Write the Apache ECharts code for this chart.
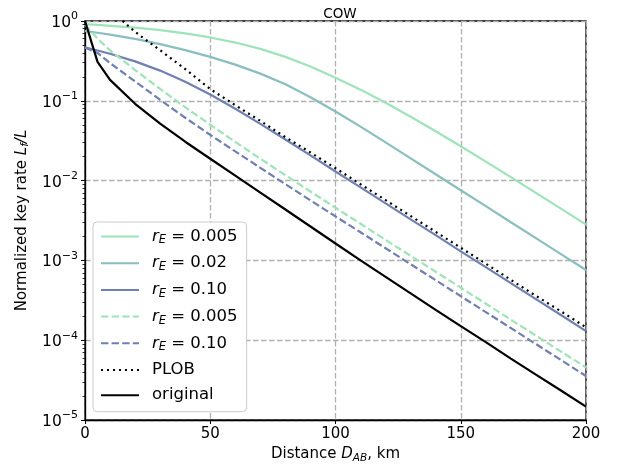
<!DOCTYPE html>
<html><head><meta charset="utf-8">
<script src="https://cdn.jsdelivr.net/npm/echarts@6/dist/echarts.min.js"></script>
<style>html,body{margin:0;padding:0;background:#fff}#c{width:624px;height:469px}</style>
</head><body><div id="c"></div>
<script>
// Data
const distance = [0,5,10,20,30,40,50,60,70,80,90,100,110,120,130,140,150,160,170,180,190,200];
const plobDistance = [15,20,30,40,50,60,70,80,90,100,110,120,130,140,150,160,170,180,190,200];

const rE005 = [0.916,0.893,0.871,0.824,0.769,0.701,0.622,0.537,0.447,0.355,0.269,0.195,0.138,0.0944,0.0631,0.0415,0.0269,0.0173,0.01104,0.00702,0.00445,0.00281];
const rE002 = [0.750,0.713,0.676,0.596,0.513,0.432,0.355,0.284,0.219,0.161,0.111,0.0735,0.0474,0.0301,0.0190,0.0120,0.00757,0.00478,0.00301,0.00190,0.00120,0.000757];
const rE010 = [0.467,0.427,0.388,0.312,0.239,0.173,0.120,0.0796,0.0514,0.0327,0.0207,0.0130,0.00822,0.00519,0.00327,0.00207,0.00130,0.000822,0.000519,0.000327,0.000207,0.000130];
const rE005dashed = [0.9,0.603,0.427,0.243,0.141,0.0832,0.0501,0.0305,0.0188,0.0117,0.0073,0.00457,0.00288,0.00181,0.00114,0.000721,0.000455,0.000287,0.000181,0.000114,0.0000721,0.0000455];
const rE010dashed = [0.467,0.398,0.297,0.175,0.103,0.0613,0.0374,0.0232,0.01445,0.00904,0.00566,0.00356,0.00225,0.00142,0.000895,0.000565,0.000356,0.000225,0.000142,0.0000895,0.0000565,0.0000356];
const plob = [1.0,0.73,0.43,0.25,0.14,0.088,0.056,0.035,0.0225,0.0143,0.009,0.0057,0.0036,0.00228,0.00144,0.00091,0.00057,0.00036,0.00023,0.000145];
const original = [1.0,0.307,0.183,0.0917,0.0516,0.0307,0.0188,0.01155,0.00708,0.00434,0.00266,0.00163,0.001,0.000622,0.000387,0.00024,0.00015,0.0000944,0.0000587,0.000037,0.0000234,0.0000147];

const xTicks = [0,50,100,150,200];
const yDecades = [1e-5,1e-4,1e-3,1e-2,1e-1,1];
const legendLabels = {
  s1:'{i|r}{sub|E}{t| = 0.005}',
  s2:'{i|r}{sub|E}{t| = 0.02}',
  s3:'{i|r}{sub|E}{t| = 0.10}',
  s4:'{i|r}{sub|E}{t| = 0.005}',
  s5:'{i|r}{sub|E}{t| = 0.10}',
  s6:'{p|PLOB}',
  s7:'{p|original}'
};

// minor tick positions (2..9 within each decade) for the log axis
const minorTicks = [];
for (let d = 0; d < yDecades.length - 1; d++) {
  for (let m = 2; m <= 9; m++) minorTicks.push(parseFloat((m * yDecades[d]).toPrecision(6)));
}

const FONT = 'DejaVu Sans';
const GREEN = '#9fe3b9', TEAL = '#8abebf', BLUE = '#7080b0';
function pairs(xs, ys){ return xs.map((x,i)=>[x, ys[i]]); }

const chart = echarts.init(document.getElementById('c'), null, {renderer:'canvas'});
const gridLine = {show:true, lineStyle:{color:'#b0b0b0', type:[5.5,2.5], width:1.3}};
function mk(name, xs, ys, color, type){
  return {name:name, type:'line', data:pairs(xs, ys), showSymbol:false, symbol:'none',
    smooth:false, clip:true, lineStyle:{color:color, width:2.2, type:type, cap:'butt'}, itemStyle:{color:color}};
}
const option = {
  animation:false,
  title:{text:'COW', left:335, top:2, textAlign:'center',
    textStyle:{fontFamily:FONT, fontSize:13.5, fontWeight:'normal', color:'#000'}},
  grid:{left:85, top:21, width:501, height:399, show:true, borderColor:'#000', borderWidth:1.3, containLabel:false},
  legend:{
    orient:'vertical', left:93, top:222, padding:[6,9,8,7],
    itemWidth:38, itemHeight:14, itemGap:8.2,
    backgroundColor:'#fff', borderColor:'#cccccc', borderWidth:1, borderRadius:4,
    itemStyle:{color:'rgba(0,0,0,0)', borderColor:'rgba(0,0,0,0)', borderWidth:0},
    data:['s1','s2','s3','s4','s5','s6','s7'],
    formatter:function(n){ return legendLabels[n]; },
    textStyle:{fontFamily:FONT, color:'#000', rich:{
      i:{fontFamily:FONT, fontStyle:'italic', fontSize:16.5, lineHeight:20, padding:[0,0,0,8]},
      sub:{fontFamily:FONT, fontStyle:'italic', fontSize:11.5, verticalAlign:'bottom', padding:[6,0,0,0]},
      t:{fontFamily:FONT, fontSize:16.5, lineHeight:20},
      p:{fontFamily:FONT, fontSize:16.5, lineHeight:20, padding:[0,0,0,8]}
    }}
  },
  xAxis:{type:'value', min:0, max:200, interval:50,
    axisLine:{show:true, lineStyle:{color:'#000', width:1.3}},
    axisTick:{show:true, length:4, lineStyle:{color:'#000', width:1}},
    axisLabel:{fontFamily:FONT, fontSize:15, color:'#000', margin:7,
      formatter:function(v){ return xTicks.indexOf(v) >= 0 ? String(v) : ''; }},
    splitLine:gridLine,
    name:'{t|Distance }{i|D}{sub|AB}{t|, km}', nameLocation:'middle', nameGap:25,
    nameTextStyle:{fontFamily:FONT, color:'#000', rich:{
      t:{fontFamily:FONT, fontSize:15, color:'#000'},
      i:{fontFamily:FONT, fontSize:15, fontStyle:'italic', color:'#000'},
      sub:{fontFamily:FONT, fontSize:10.5, fontStyle:'italic', color:'#000', verticalAlign:'bottom', padding:[8,0,0,0]}
    }}
  },
  yAxis:[{type:'log', logBase:10, min:1e-5, max:1, splitNumber:5,
    axisLine:{show:true, lineStyle:{color:'#000', width:1.3}},
    axisTick:{show:true, length:4, lineStyle:{color:'#000', width:1}},
    axisLabel:{color:'#000', margin:7,
      formatter:function(v){
        const e = Math.round(Math.log10(v));
        return '{b|10}{s|' + (e < 0 ? '\u2212' + (-e) : String(e)) + '}';
      },
      rich:{
        b:{fontFamily:FONT, fontSize:15.5, color:'#000', verticalAlign:'bottom', lineHeight:20},
        s:{fontFamily:FONT, fontSize:11, color:'#000', verticalAlign:'top', lineHeight:14}
      }},
    splitLine:gridLine,
    name:'{t|Normalized key rate }{i|L}{sub|f}{i|/L}', nameLocation:'middle', nameGap:52, nameRotate:90,
    nameTextStyle:{fontFamily:FONT, color:'#000', rich:{
      t:{fontFamily:FONT, fontSize:15, color:'#000'},
      i:{fontFamily:FONT, fontSize:15, fontStyle:'italic', color:'#000'},
      sub:{fontFamily:FONT, fontSize:10.5, fontStyle:'italic', color:'#000', verticalAlign:'bottom', padding:[8,0,0,0]}
    }}
  },{
    type:'log', logBase:10, min:1e-5, max:1, position:'left',
    axisLine:{show:false}, splitLine:{show:false}, axisLabel:{show:false},
    axisTick:{show:true, length:2.5, customValues:minorTicks, lineStyle:{color:'#000', width:0.8}}
  }],
  series:[
    mk('s1', distance, rE005, GREEN, 'solid'),
    mk('s2', distance, rE002, TEAL, 'solid'),
    mk('s3', distance, rE010, BLUE, 'solid'),
    mk('s4', distance, rE005dashed, GREEN, [7.4,3.2]),
    mk('s5', distance, rE010dashed, BLUE, [7.4,3.2]),
    mk('s6', plobDistance, plob, '#000', [2,4]),
    mk('s7', distance, original, '#000', 'solid')
  ]
};
chart.setOption(option);
</script>
</body></html>
